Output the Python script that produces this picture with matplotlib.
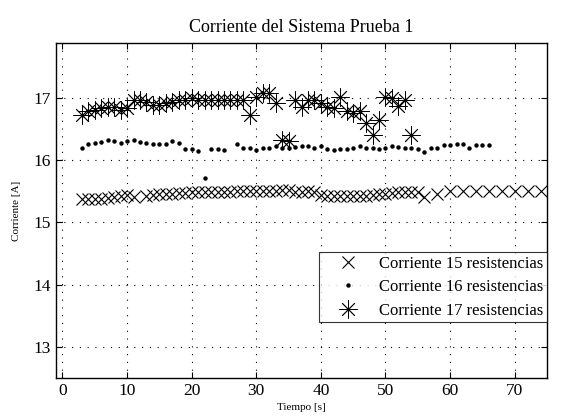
import numpy as np
import matplotlib
matplotlib.use('Agg')
import matplotlib.pyplot as plt

plt.rcParams['font.family'] = ['Liberation Serif', 'DejaVu Serif']

# corriente 15 resistencias
t15 = [3, 4, 5, 6, 7, 8, 9, 10, 11,
       13, 14, 15, 16, 17, 18, 19, 20, 21, 22, 23, 24, 25, 26, 27, 28, 29, 30,
       31, 32, 33, 34, 35, 36, 37, 38, 39, 40, 41, 42, 43, 44, 45, 46, 47, 48,
       49, 50, 51, 52, 53, 54, 55, 56, 58, 60, 62, 64, 66, 68, 70, 72, 74]
i15 = [15.38, 15.37, 15.38, 15.38, 15.39, 15.40, 15.42, 15.44, 15.40,
       15.42, 15.44, 15.45, 15.45, 15.46, 15.47, 15.47, 15.48, 15.48, 15.49, 15.49, 15.49, 15.49, 15.49, 15.50, 15.50, 15.50, 15.50,
       15.50, 15.50, 15.51, 15.52, 15.52, 15.48, 15.48, 15.50, 15.48, 15.44, 15.42, 15.42, 15.42, 15.43, 15.43, 15.43, 15.43, 15.44,
       15.45, 15.46, 15.47, 15.48, 15.49, 15.48, 15.49, 15.40, 15.45, 15.50, 15.50, 15.50, 15.50, 15.50, 15.50, 15.50, 15.50]

# corriente 16 resistencias
t16 = [3, 4, 5, 6, 7, 8, 9, 10, 11, 12, 13, 14, 15, 16, 17, 18, 19, 20, 21, 22, 23, 24, 25,
       27, 28, 29, 30, 31, 32, 33, 34, 35, 36, 37, 38, 39, 40, 41, 42, 43, 44, 45, 46,
       47, 48, 49, 50, 51, 52, 53, 54, 55, 56, 57, 58, 59, 60, 61, 62, 63, 64, 65, 66]
i16 = [16.20, 16.26, 16.27, 16.29, 16.32, 16.30, 16.28, 16.30, 16.32, 16.29, 16.28, 16.26, 16.26, 16.26, 16.30, 16.27, 16.18, 16.18, 16.14, 15.71, 16.18, 16.18, 16.16,
       16.26, 16.19, 16.19, 16.16, 16.20, 16.20, 16.22, 16.20, 16.20, 16.21, 16.22, 16.22, 16.19, 16.22, 16.17, 16.16, 16.17, 16.17, 16.20, 16.22,
       16.19, 16.19, 16.17, 16.19, 16.22, 16.21, 16.20, 16.19, 16.17, 16.13, 16.20, 16.20, 16.24, 16.24, 16.26, 16.26, 16.20, 16.24, 16.24, 16.24]

# corriente 17 resistencias
t17 = [3, 4, 5, 6, 7, 8, 9, 10, 11, 12, 13, 14, 15, 16, 17, 18, 19, 20, 21, 22, 23, 24, 25,
       26, 27, 28, 29, 30, 31, 32, 33, 34, 35, 36, 37, 38, 39, 40, 41, 42, 43, 44, 45, 46,
       47, 48, 49, 50, 51, 52, 53, 54]
i17 = [16.72, 16.78, 16.81, 16.83, 16.85, 16.85, 16.81, 16.83, 16.96, 16.96, 16.94, 16.88, 16.88, 16.91, 16.94, 16.96, 16.97, 16.99, 16.97, 16.96, 16.96, 16.96, 16.96,
       16.96, 16.97, 16.97, 16.72, 17.02, 17.07, 17.07, 16.91, 16.33, 16.31, 16.96, 16.86, 16.96, 16.96, 16.91, 16.86, 16.83, 17.02, 16.78, 16.75, 16.78,
       16.60, 16.40, 16.64, 17.02, 16.99, 16.87, 16.96, 16.40]

fig = plt.figure(figsize=(5.8, 4.17), dpi=100)
ax = fig.add_axes([56/580, 1 - 378/417, 491/580, 335/417])

ax.plot(t15, i15, 'x', color='k', ms=9, mew=0.8, label='Corriente 15 resistencias')
ax.plot(t16, i16, 'o', color='k', ms=3.2, mew=0, label='Corriente 16 resistencias')
ax.plot(t17, i17, marker=(8, 2, 0), ls='none', color='k', ms=13, mew=0.6,
        label='Corriente 17 resistencias')

ax.set_xlim(-1, 75)
ax.set_ylim(12.5, 17.88)
ax.set_xticks(np.arange(0, 71, 10))
ax.set_yticks(np.arange(13, 18, 1))
ax.tick_params(direction='in', top=True, right=True, labelsize=12.5, length=4, width=0.8)
ax.grid(True, color='k', linestyle=(0, (1, 6)), linewidth=0.8)
for s in ax.spines.values():
    s.set_linewidth(1.0)

ax.set_title('Corriente del Sistema Prueba 1', fontsize=13, pad=8)
ax.set_xlabel('Tiempo [s]', fontsize=8, labelpad=3)
ax.set_ylabel('Corriente [A]', fontsize=8, labelpad=9)

leg = ax.legend(loc='lower right', bbox_to_anchor=(1.0, 0.167), fontsize=12,
                frameon=True, fancybox=False, edgecolor='k', borderaxespad=0,
                handlelength=3, handletextpad=0.4, borderpad=0.2, labelspacing=0.45)
leg.get_frame().set_linewidth(0.8)

fig.savefig('out.png', dpi=100)
